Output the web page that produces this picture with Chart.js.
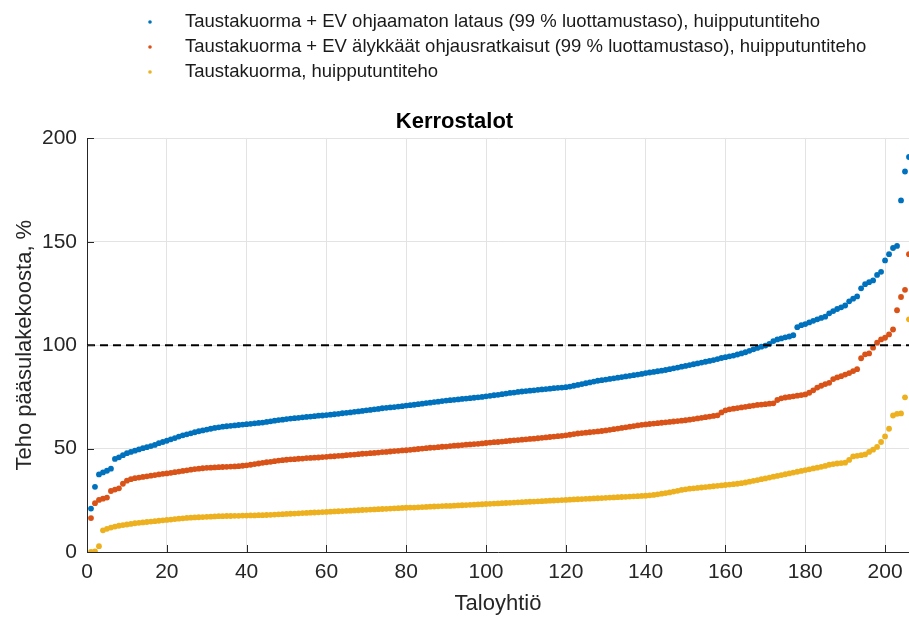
<!DOCTYPE html>
<html lang="fi">
<head>
    <meta charset="UTF-8">
    <title>Kerrostalot</title>
    <script src="https://cdn.jsdelivr.net/npm/chart.js"></script>
    <style>
        body { margin: 0; background: #fff; }
    </style>
</head>
<body>
    <canvas id="kuvaaja" width="909" height="617"></canvas>

    <script>
        // Taloyhtiöt järjestyksessä 1..206, arvot luettu kuvasta (% pääsulakekoosta)
        var ohjaamaton = [
            21, 31.5, 37.5, 38.5, 39.3, 40.3, 45, 45.8, 46.8, 47.8,
            48.4, 49, 49.6, 50.2, 50.7, 51.2, 51.8, 52.6, 53.2, 53.8,
            54.5, 55.1, 55.8, 56.4, 56.9, 57.4, 57.9, 58.4, 58.8, 59.2,
            59.6, 60, 60.3, 60.6, 60.8, 61, 61.2, 61.4, 61.6, 61.8,
            62, 62.2, 62.4, 62.6, 62.9, 63.2, 63.5, 63.8, 64, 64.3,
            64.5, 64.7, 64.9, 65.1, 65.3, 65.5, 65.7, 65.9, 66, 66.2,
            66.4, 66.6, 66.8, 67.1, 67.3, 67.5, 67.8, 68, 68.2, 68.5,
            68.7, 69, 69.2, 69.5, 69.7, 69.9, 70.1, 70.3, 70.5, 70.8,
            71, 71.2, 71.5, 71.7, 72, 72.2, 72.5, 72.7, 73, 73.2,
            73.4, 73.6, 73.8, 74, 74.2, 74.4, 74.6, 74.8, 75, 75.3,
            75.5, 75.8, 76, 76.3, 76.6, 76.9, 77.1, 77.4, 77.6, 77.8,
            78, 78.2, 78.4, 78.6, 78.8, 79, 79.2, 79.4, 79.5, 79.7,
            80, 80.4, 80.8, 81.2, 81.6, 82, 82.4, 82.8, 83.1, 83.4,
            83.7, 84, 84.3, 84.6, 84.9, 85.2, 85.5, 85.8, 86.1, 86.5,
            86.8, 87.1, 87.4, 87.7, 88, 88.4, 88.8, 89.2, 89.6, 90,
            90.4, 90.8, 91.2, 91.6, 92, 92.4, 92.8, 93.3, 93.8, 94.2,
            94.6, 95, 95.5, 96, 96.6, 97.3, 98, 98.7, 99.3, 99.8,
            100.6, 102, 102.8, 103.3, 103.8, 104.2, 104.8, 108.7, 109.7, 110.2,
            111, 111.8, 112.5, 113.2, 113.8, 115.4, 116.5, 117.5, 118.3, 119.2,
            121.2, 122.5, 123.6, 127.5, 129.5, 130.5, 131.3, 134, 135.5, 141,
            144, 147, 148, 170, 184, 191
        ];

        var alykkaat = [
            16.4, 23.6, 25.2, 25.8, 26.3, 29.5, 30.2, 30.8, 33, 34.5,
            35.2, 35.7, 36, 36.3, 36.6, 36.9, 37.2, 37.5, 37.8, 38,
            38.3, 38.6, 38.9, 39.2, 39.5, 39.8, 40.1, 40.3, 40.5, 40.7,
            40.8, 40.9, 41, 41.1, 41.2, 41.3, 41.4, 41.5, 41.7, 41.9,
            42.2, 42.5, 42.8, 43.1, 43.4, 43.6, 43.9, 44.2, 44.4, 44.6,
            44.8, 44.9, 45.1, 45.2, 45.4, 45.5, 45.6, 45.7, 45.9, 46,
            46.2, 46.3, 46.5, 46.6, 46.8, 47, 47.1, 47.3, 47.5, 47.6,
            47.8, 47.9, 48.1, 48.3, 48.4, 48.6, 48.8, 48.9, 49.1, 49.2,
            49.4, 49.6, 49.8, 50, 50.2, 50.4, 50.5, 50.7, 50.9, 51,
            51.2, 51.4, 51.5, 51.7, 51.9, 52, 52.2, 52.3, 52.5, 52.7,
            52.9, 53.1, 53.2, 53.4, 53.6, 53.8, 54, 54.1, 54.3, 54.5,
            54.7, 54.8, 55, 55.2, 55.4, 55.6, 55.8, 56, 56.2, 56.4,
            56.7, 57, 57.3, 57.5, 57.7, 57.9, 58.1, 58.3, 58.5, 58.8,
            59.1, 59.4, 59.7, 60, 60.3, 60.6, 60.9, 61.2, 61.5, 61.7,
            61.9, 62.1, 62.3, 62.5, 62.7, 62.9, 63.1, 63.3, 63.5, 63.7,
            64, 64.3, 64.6, 64.9, 65.2, 65.5, 65.8, 66.1, 67.5, 68.5,
            69, 69.3, 69.6, 69.9, 70.2, 70.5, 70.8, 71.1, 71.3, 71.5,
            71.7, 71.9, 73.5, 74.3, 74.7, 75, 75.3, 75.6, 75.9, 76.2,
            77, 78.2, 79.5, 80.4, 81.2, 81.8, 83.6, 84.4, 85, 85.8,
            86.5, 87.5, 88.4, 93.7, 95.6, 96, 98.8, 101.2, 102.8, 103.6,
            105.2, 107.6, 116.9, 123.3, 126.8, 144
        ];

        var taustakuorma = [
            0, 0.3, 2.8, 10.5, 11.2, 11.8, 12.3, 12.7, 13, 13.3,
            13.6, 13.9, 14.1, 14.3, 14.5, 14.7, 14.9, 15.1, 15.3, 15.5,
            15.7, 15.9, 16.1, 16.3, 16.5, 16.6, 16.7, 16.8, 16.9, 17,
            17.1, 17.2, 17.3, 17.3, 17.4, 17.4, 17.5, 17.5, 17.6, 17.6,
            17.7, 17.7, 17.8, 17.8, 17.9, 18, 18.1, 18.2, 18.3, 18.4,
            18.5, 18.6, 18.7, 18.8, 18.9, 19, 19.1, 19.2, 19.3, 19.4,
            19.5, 19.6, 19.7, 19.8, 19.9, 20, 20.1, 20.2, 20.3, 20.4,
            20.5, 20.6, 20.7, 20.8, 20.9, 21, 21.1, 21.2, 21.3, 21.4,
            21.5, 21.5, 21.6, 21.7, 21.8, 21.9, 22, 22.1, 22.2, 22.3,
            22.3, 22.4, 22.5, 22.6, 22.7, 22.8, 22.9, 23, 23.1, 23.2,
            23.3, 23.4, 23.5, 23.6, 23.7, 23.8, 23.9, 24, 24.1, 24.2,
            24.3, 24.4, 24.5, 24.6, 24.7, 24.8, 24.9, 25, 25.1, 25.2,
            25.3, 25.4, 25.5, 25.6, 25.7, 25.8, 25.9, 26, 26.1, 26.2,
            26.3, 26.4, 26.5, 26.6, 26.7, 26.8, 26.9, 27, 27.1, 27.2,
            27.4, 27.6, 27.9, 28.2, 28.5, 28.8, 29.2, 29.6, 30, 30.3,
            30.6, 30.8, 31, 31.2, 31.4, 31.6, 31.8, 32, 32.2, 32.4,
            32.6, 32.8, 33, 33.3, 33.6, 34, 34.4, 34.8, 35.2, 35.6,
            36, 36.4, 36.8, 37.2, 37.6, 38, 38.4, 38.8, 39.2, 39.6,
            40, 40.4, 40.8, 41.2, 41.6, 42.2, 42.5, 42.8, 43, 43.2,
            44.5, 46.2, 46.5, 46.8, 47.2, 48.4, 49.5, 50.8, 53.2, 55.9,
            59.6, 66, 66.8, 67, 74.8, 112.5
        ];

        var sarjaNimet = [
            'Taustakuorma + EV ohjaamaton lataus (99 % luottamustaso), huipputuntiteho',
            'Taustakuorma + EV älykkäät ohjausratkaisut (99 % luottamustaso), huipputuntiteho',
            'Taustakuorma, huipputuntiteho'
        ];
        var sarjaVarit = ['#0072BD', '#D95319', '#EDB120'];

        var xTicks = [0, 20, 40, 60, 80, 100, 120, 140, 160, 180, 200];
        var yTicks = [0, 50, 100, 150, 200];
        var xMax = 206;
        var raja = 100; // pääsulakekoko = 100 %

        // taulukosta pisteiksi, x = taloyhtiön järjestysnumero
        function pisteet(arvot) {
            return arvot.map(function (v, i) { return { x: i + 1, y: v }; });
        }

        Chart.defaults.font.family = '"Liberation Sans", Arial, sans-serif';
        Chart.defaults.color = '#262626';

        // legenda piirretään itse, vasemmalle tasattuna kuten alkuperäisessä
        var omaLegenda = {
            id: 'omaLegenda',
            afterDraw: function (chart) {
                var ctx = chart.ctx;
                ctx.save();
                ctx.font = '18.5px "Liberation Sans", Arial, sans-serif';
                ctx.textBaseline = 'middle';
                chart.data.datasets.forEach(function (ds, i) {
                    if (!ds.naytaLegendassa) return;
                    var y = 22 + i * 25;
                    ctx.fillStyle = ds.backgroundColor;
                    ctx.beginPath();
                    ctx.arc(150, y, 1.8, 0, Math.PI * 2);
                    ctx.fill();
                    ctx.fillStyle = '#1a1a1a';
                    ctx.fillText(ds.label, 185, y);
                });
                ctx.restore();
            }
        };

        // sisäänpäin osoittavat tikit (MATLAB-tyyli)
        var sisaTikit = {
            id: 'sisaTikit',
            afterDraw: function (chart) {
                var ctx = chart.ctx, a = chart.chartArea;
                var sx = chart.scales.x, sy = chart.scales.y;
                ctx.save();
                ctx.strokeStyle = '#262626';
                ctx.lineWidth = 1;
                ctx.beginPath();
                xTicks.forEach(function (t) {
                    var px = Math.round(sx.getPixelForValue(t)) + 0.5;
                    ctx.moveTo(px, a.bottom);
                    ctx.lineTo(px, a.bottom - 7);
                });
                yTicks.forEach(function (t) {
                    var py = Math.round(sy.getPixelForValue(t)) + 0.5;
                    ctx.moveTo(a.left, py);
                    ctx.lineTo(a.left + 7, py);
                });
                ctx.stroke();
                ctx.restore();
            }
        };

        var datasets = [ohjaamaton, alykkaat, taustakuorma].map(function (arvot, i) {
            return {
                label: sarjaNimet[i],
                data: pisteet(arvot),
                backgroundColor: sarjaVarit[i],
                borderColor: sarjaVarit[i],
                borderWidth: 0,
                pointRadius: 2.9,
                pointHoverRadius: 2.9,
                showLine: false,
                naytaLegendassa: true,
                order: 3 - i
            };
        });

        datasets.push({
            type: 'line',
            label: 'raja',
            data: [{ x: 0, y: raja }, { x: xMax, y: raja }],
            borderColor: '#000',
            borderWidth: 2,
            borderDash: [8, 5],
            pointRadius: 0,
            fill: false,
            order: 0
        });

        new Chart(document.getElementById('kuvaaja'), {
            type: 'scatter',
            data: { datasets: datasets },
            options: {
                responsive: false,
                animation: false,
                devicePixelRatio: 1,
                layout: {
                    autoPadding: false, // piirtoalue oikeaan reunaan asti
                    padding: { top: 95, left: 0, right: 0, bottom: 0 }
                },
                plugins: {
                    legend: { display: false },
                    tooltip: { enabled: false },
                    title: {
                        display: true,
                        text: 'Kerrostalot',
                        color: '#000',
                        font: { size: 22, weight: 'bold' },
                        padding: { top: 14, bottom: 3 }
                    }
                },
                scales: {
                    x: {
                        type: 'linear',
                        min: 0,
                        max: xMax,
                        afterBuildTicks: function (s) {
                            s.ticks = xTicks.map(function (v) { return { value: v }; });
                        },
                        afterFit: function (s) {
                            s.height = 65;
                            s.paddingRight = 0;
                        },
                        ticks: { font: { size: 21 }, padding: 8, color: '#262626' },
                        grid: { color: '#e3e3e3', drawTicks: false },
                        border: { color: '#262626', width: 1 },
                        title: {
                            display: true,
                            text: 'Taloyhtiö',
                            font: { size: 22 },
                            color: '#262626',
                            padding: { top: 4, bottom: 0 }
                        }
                    },
                    y: {
                        min: 0,
                        max: 200,
                        afterBuildTicks: function (s) {
                            s.ticks = yTicks.map(function (v) { return { value: v }; });
                        },
                        afterFit: function (s) { s.width = 87; },
                        ticks: { font: { size: 21 }, padding: 10, color: '#262626' },
                        grid: { color: '#e3e3e3', drawTicks: false },
                        border: { color: '#262626', width: 1 },
                        title: {
                            display: true,
                            text: 'Teho pääsulakekoosta, %',
                            font: { size: 22 },
                            color: '#262626',
                            padding: { top: 12, bottom: 4 }
                        }
                    }
                }
            },
            plugins: [omaLegenda, sisaTikit]
        });
    </script>
</body>
</html>
